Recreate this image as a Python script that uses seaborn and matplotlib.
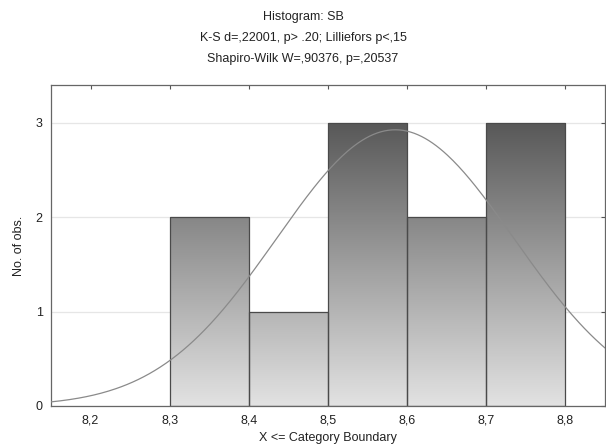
import numpy as np
import matplotlib
matplotlib.use("Agg")
import matplotlib.pyplot as plt
from matplotlib.colors import LinearSegmentedColormap
from matplotlib.ticker import FuncFormatter
import seaborn as sns

# histogram data
bin_edges = [8.3, 8.4, 8.5, 8.6, 8.7, 8.8]
bin_centers = [8.35, 8.45, 8.55, 8.65, 8.75]
counts = [2, 1, 3, 2, 3]

# fitted normal curve parameters (estimated)
fit_mean = 8.585
fit_sd = 0.15
n_obs = 11
bin_width = 0.1

x_ticks = [8.2, 8.3, 8.4, 8.5, 8.6, 8.7, 8.8]
y_ticks = [0, 1, 2, 3]

title_lines = [
    "Histogram: SB",
    "K-S d=,22001, p> .20; Lilliefors p<,15",
    "Shapiro-Wilk W=,90376, p=,20537",
]

sns.set_style("white")
plt.rcParams["font.family"] = ["Liberation Sans", "DejaVu Sans"]

fig = plt.figure(figsize=(6.06, 4.46), dpi=100)
ax = fig.add_axes([51 / 606, 1 - 406 / 446, 554 / 606, 321 / 446])

# bars (outline only, fill is a gradient below)
sns.histplot(x=bin_centers, weights=counts, bins=bin_edges, ax=ax,
             facecolor="none", edgecolor="#4a4a4a", linewidth=0.9, zorder=2)

# vertical grey gradient, dark at top, clipped to each bar
cmap = LinearSegmentedColormap.from_list("grad", ["#e2e2e2", "#9e9e9e", "#585858"])
for patch in ax.patches:
    x0 = patch.get_x()
    w = patch.get_width()
    h = patch.get_height()
    grad = np.linspace(0, h, 256).reshape(-1, 1)
    im = ax.imshow(grad, extent=[x0, x0 + w, 0, h], origin="lower",
                   cmap=cmap, vmin=0, vmax=3, aspect="auto", zorder=1)
    im.set_clip_path(patch)

# normal fit curve
xs = np.linspace(8.15, 8.85, 300)
ys = n_obs * bin_width * np.exp(-0.5 * ((xs - fit_mean) / fit_sd) ** 2) / (fit_sd * np.sqrt(2 * np.pi))
sns.lineplot(x=xs, y=ys, ax=ax, color="#8a8a8a", linewidth=0.9, zorder=3)

ax.set_xlim(8.15, 8.85)
ax.set_ylim(0, 3.4)
ax.set_xticks(x_ticks)
ax.set_yticks(y_ticks)
ax.xaxis.set_major_formatter(FuncFormatter(lambda v, p: f"{v:.1f}".replace(".", ",")))
ax.yaxis.grid(True, color="#e6e6e6", linewidth=0.9)
ax.set_axisbelow(True)
ax.tick_params(direction="in", top=True, right=True, length=3, width=0.8,
               color="#555555", labelsize=9, labelcolor="#222222", pad=6)
for sp in ax.spines.values():
    sp.set_color("#666666")
    sp.set_linewidth(0.9)

ax.set_xlabel("X <= Category Boundary", fontsize=9, color="#222222", labelpad=4)
ax.set_ylabel("No. of obs.", fontsize=9, color="#222222", labelpad=8)

for i, line in enumerate(title_lines):
    fig.text(0.5, 1 - (17 + 21 * i) / 446, line, ha="center", va="center",
             fontsize=9, color="#222222")

fig.savefig("out.png", dpi=100)
